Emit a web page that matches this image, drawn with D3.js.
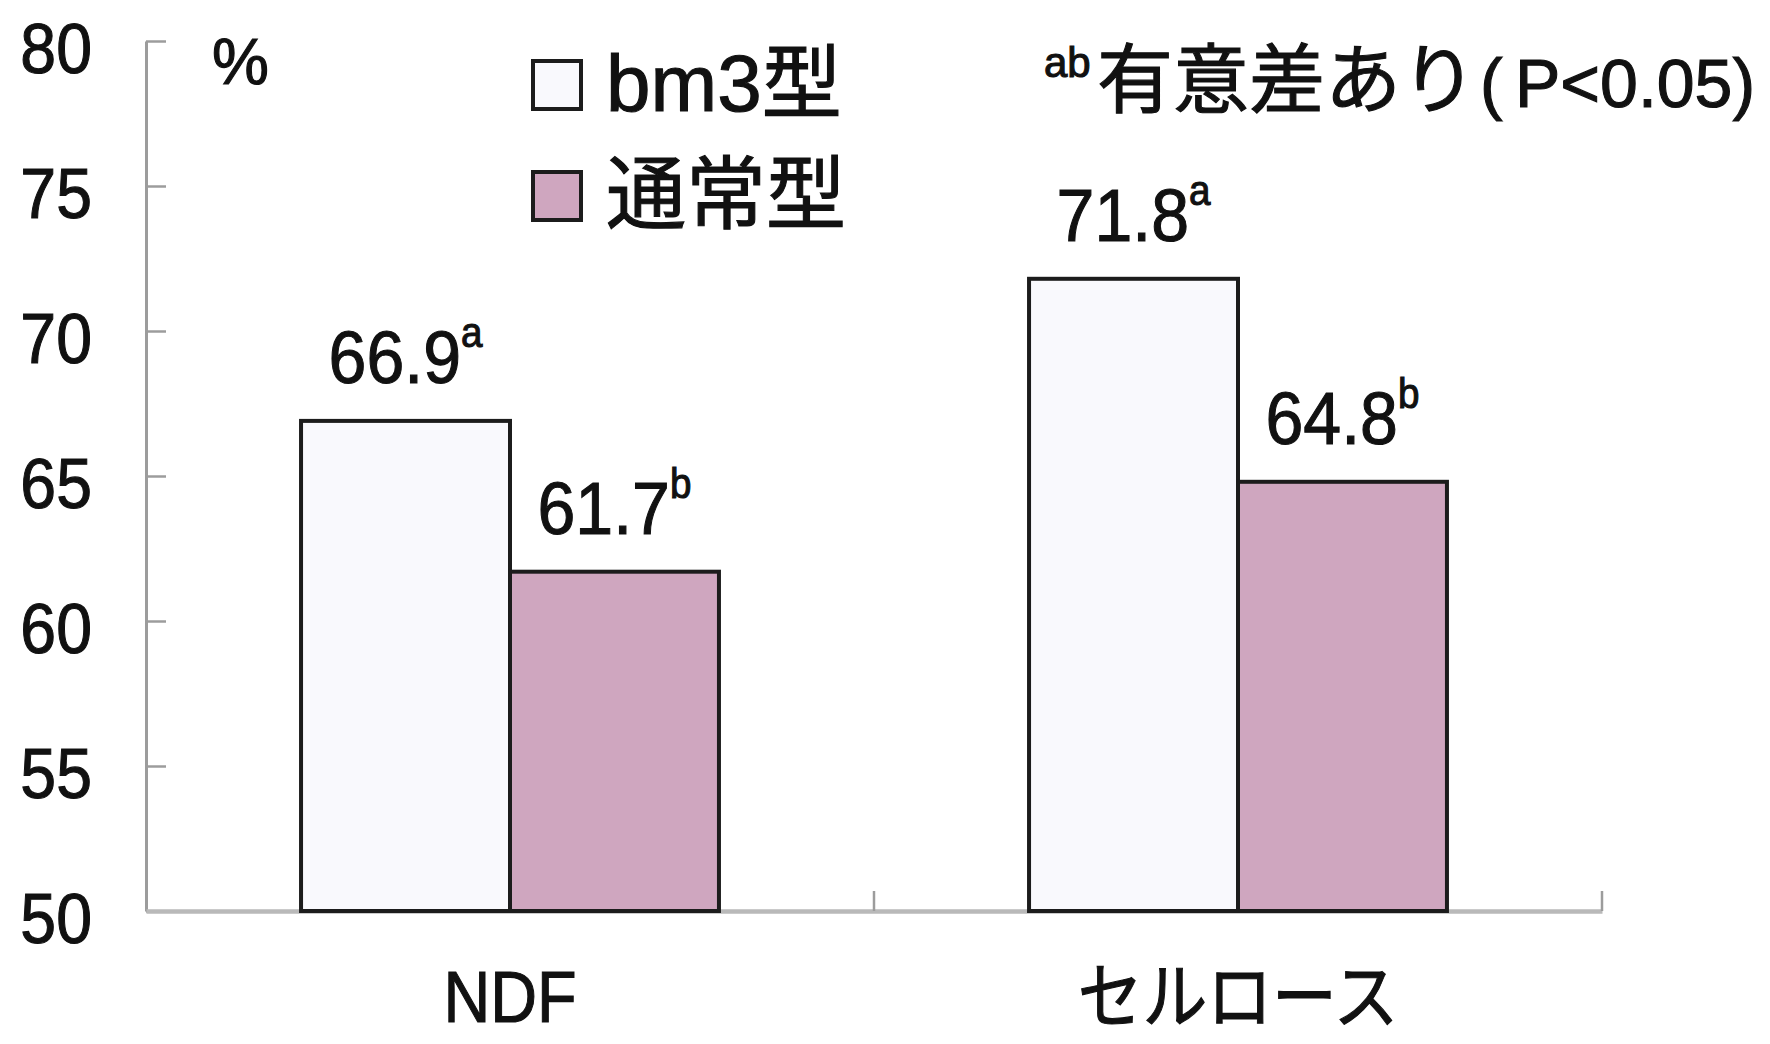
<!DOCTYPE html>
<html>
<head>
<meta charset="utf-8">
<script src="https://cdn.jsdelivr.net/npm/d3@7"></script>
<style>
  html, body { margin: 0; padding: 0; background: #ffffff; }
  svg { display: block; }
  text {
    fill: #111111;
    stroke: #111111;
    stroke-width: 1.1px;
    font-family: "Liberation Sans", Arial, "Noto Sans CJK JP", sans-serif;
  }
</style>
</head>
<body>
<svg id="chart" width="1770" height="1044"></svg>
<script>
// Digestibility (%) by fraction, bm3 type vs normal type
const categories = ["NDF", "セルロース"];
const seriesNames = ["bm3型", "通常型"];
const bm3Values = [66.9, 71.8];
const normalValues = [61.7, 64.8];
const bm3Marks = ["a", "a"];
const normalMarks = ["b", "b"];
const yTicks = [50, 55, 60, 65, 70, 75, 80];
const unitLabel = "%";
const noteMark = "ab";
const noteText = "有意差あり";
const noteOpen = "(";
const noteP = "P<0.05)";

const seriesFill = ["#f9f9fd", "#cfa6bf"];
const barStroke = "#1c1c1c";

const svg = d3.select("#chart");

const plotLeft = 146, plotRight = 1602, plotTop = 41, plotBottom = 911;

const y = d3.scaleLinear().domain([50, 80]).range([plotBottom, plotTop]);
const x0 = d3.scaleBand().domain(categories).range([plotLeft, plotRight]).padding(0);
const x1 = d3.scaleBand().domain(seriesNames).range([0, x0.bandwidth()])
  .paddingInner(0).paddingOuter(0.742);

const rows = categories.map((c, i) => ({
  category: c,
  bars: [
    { series: seriesNames[0], value: bm3Values[i], mark: bm3Marks[i], fill: seriesFill[0] },
    { series: seriesNames[1], value: normalValues[i], mark: normalMarks[i], fill: seriesFill[1] }
  ]
}));

// ---- y axis: gray line, ticks pointing inward, labels on the left
const sxTick = 0.92;
const yAxis = svg.append("g")
  .attr("transform", `translate(${plotLeft},0)`)
  .call(d3.axisLeft(y).tickValues(yTicks).tickSizeInner(-20).tickSizeOuter(0)
    .tickPadding(54 / sxTick).tickFormat(d3.format("d")));
yAxis.select(".domain").attr("stroke", "#9c9c9c").attr("stroke-width", 3);
yAxis.selectAll(".tick line").attr("stroke", "#9c9c9c").attr("stroke-width", 2.5);
yAxis.selectAll(".tick text")
  .attr("font-size", 70)
  .attr("dy", 31)
  .attr("fill", "#111")
  .attr("transform", `scale(${sxTick},1)`);

// ---- x axis: baseline with boundary ticks and category labels
const xAxis = svg.append("g")
  .attr("transform", `translate(0,${plotBottom})`)
  .call(d3.axisBottom(x0).tickSize(0).tickPadding(0));
xAxis.select(".domain").attr("stroke", "#b9b9b9").attr("stroke-width", 4.5);
xAxis.selectAll(".tick text")
  .attr("font-size", 72)
  .attr("y", 111)
  .attr("dy", 0)
  .attr("fill", "#111")
  .attr("transform", "scale(0.9,1)");

xAxis.selectAll(".boundary")
  .data(categories)
  .join("line")
  .attr("class", "boundary")
  .attr("x1", d => x0(d) + x0.bandwidth())
  .attr("x2", d => x0(d) + x0.bandwidth())
  .attr("y1", 0)
  .attr("y2", -20)
  .attr("stroke", "#9c9c9c")
  .attr("stroke-width", 2.5);

// ---- bars
const groups = svg.append("g").selectAll("g")
  .data(rows)
  .join("g")
  .attr("transform", d => `translate(${x0(d.category)},0)`);

groups.selectAll("rect")
  .data(d => d.bars)
  .join("rect")
  .attr("x", d => x1(d.series))
  .attr("y", d => y(d.value))
  .attr("width", x1.bandwidth())
  .attr("height", d => y(50) - y(d.value))
  .attr("fill", d => d.fill)
  .attr("stroke", barStroke)
  .attr("stroke-width", 4);

// ---- value labels with significance letters
const labels = groups.selectAll("text.value")
  .data(d => d.bars)
  .join("text")
  .attr("class", "value")
  .attr("text-anchor", "middle")
  .attr("transform", d => `translate(${x1(d.series) + x1.bandwidth() / 2},${y(d.value) - 38}) scale(0.92,1)`);
labels.append("tspan")
  .attr("font-size", 74)
  .text(d => d.value.toFixed(1));
labels.append("tspan")
  .attr("font-size", 42)
  .attr("dy", -36)
  .text(d => d.mark);

// ---- unit
svg.append("text")
  .attr("x", 212)
  .attr("y", 84)
  .attr("font-size", 64)
  .text(unitLabel);

// ---- legend
const legend = svg.append("g");
const legendRows = seriesNames.map((s, i) => ({ name: s, fill: seriesFill[i], baseline: [111, 222][i] }));
legend.selectAll("rect")
  .data(legendRows)
  .join("rect")
  .attr("x", 533)
  .attr("y", d => d.baseline - 50)
  .attr("width", 48)
  .attr("height", 48)
  .attr("fill", d => d.fill)
  .attr("stroke", barStroke)
  .attr("stroke-width", 4);
legend.selectAll("text")
  .data(legendRows)
  .join("text")
  .attr("x", 606)
  .attr("y", d => d.baseline)
  .attr("font-size", 80)
  .text(d => d.name);

// ---- significance note
const note = svg.append("text").attr("y", 107);
note.append("tspan").attr("x", 1044).attr("dy", -30).attr("font-size", 42).text(noteMark);
note.append("tspan").attr("x", 1097).attr("dy", 30).attr("font-size", 76).text(noteText);
note.append("tspan").attr("x", 1480).attr("font-size", 68).text(noteOpen);
note.append("tspan").attr("x", 1515).attr("font-size", 68).text(noteP);
</script>
</body>
</html>
